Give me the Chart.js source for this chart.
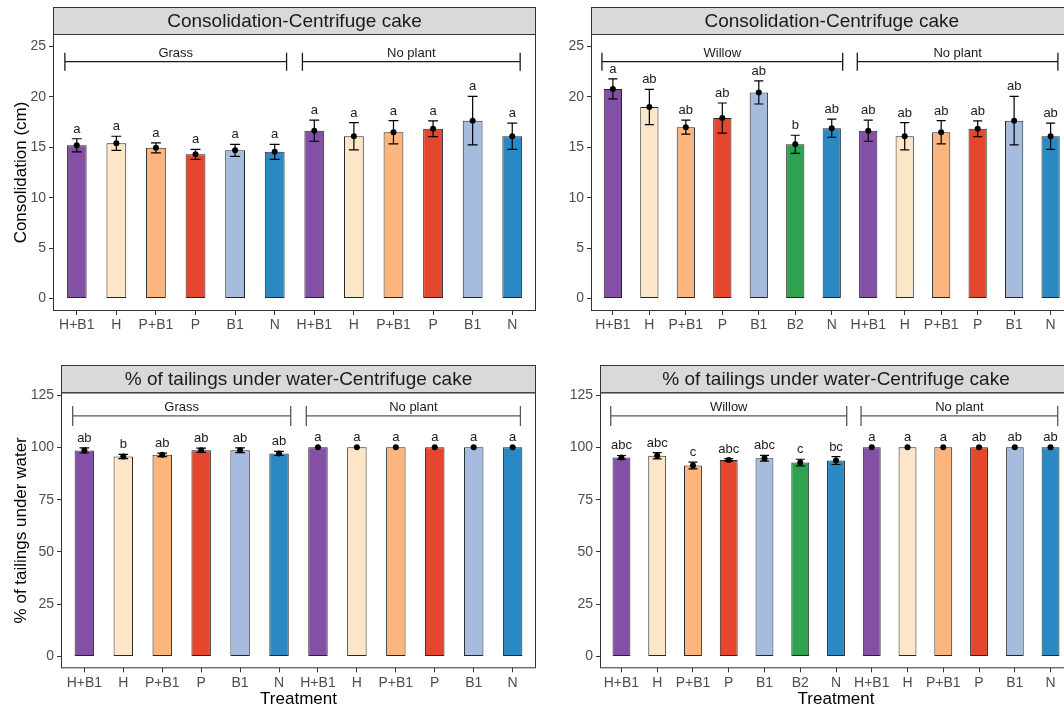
<!DOCTYPE html>
<html>
<head>
<meta charset="utf-8">
<script src="https://cdn.jsdelivr.net/npm/chart.js@4.4.1/dist/chart.umd.min.js"></script>
<style>
  html, body { margin: 0; padding: 0; background: #ffffff; overflow: hidden; width: 1064px; height: 710px; }
  .panel { position: absolute; }
  canvas { display: block; }
</style>
</head>
<body>
<div class="panel" style="left:0;top:0;"><canvas id="consolGrass" width="540" height="350"></canvas></div>
<div class="panel" style="left:540px;top:0;"><canvas id="consolWillow" width="540" height="350"></canvas></div>
<div class="panel" style="left:0;top:355px;"><canvas id="waterGrass" width="540" height="355"></canvas></div>
<div class="panel" style="left:540px;top:355px;"><canvas id="waterWillow" width="540" height="355"></canvas></div>

<script>
// ---- Treatments ----
const grassTreatments   = ['H+B1', 'H', 'P+B1', 'P', 'B1', 'N'];
const willowTreatments  = ['H+B1', 'H', 'P+B1', 'P', 'B1', 'B2', 'N'];
const noPlantTreatments = ['H+B1', 'H', 'P+B1', 'P', 'B1', 'N'];

// ---- Consolidation (cm): means, standard errors, letter groups ----
const consolGrassMean      = [15.2, 15.4, 14.95, 14.3, 14.7, 14.55];
const consolGrassSE        = [0.65, 0.7, 0.5, 0.5, 0.6, 0.75];
const consolGrassLetters   = ['a', 'a', 'a', 'a', 'a', 'a'];
const consolNoPlantMean    = [16.65, 16.1, 16.5, 16.85, 17.65, 16.1];
const consolNoPlantSE      = [1.05, 1.35, 1.15, 0.78, 2.4, 1.3];
const consolNoPlantLettersG = ['a', 'a', 'a', 'a', 'a', 'a'];
const consolWillowMean     = [20.8, 19.0, 17.0, 17.9, 20.45, 15.3, 16.9];
const consolWillowSE       = [1.0, 1.75, 0.7, 1.5, 1.15, 0.9, 0.9];
const consolWillowLetters  = ['a', 'ab', 'ab', 'ab', 'ab', 'b', 'ab'];
const consolNoPlantLettersW = ['ab', 'ab', 'ab', 'ab', 'ab', 'ab'];

// ---- % of tailings under water: means, standard errors, letter groups ----
const waterGrassMean       = [98.5, 95.6, 96.4, 98.6, 98.6, 97.1];
const waterGrassSE         = [1.2, 1.0, 0.8, 1.0, 1.1, 1.0];
const waterGrassLetters    = ['ab', 'b', 'ab', 'ab', 'ab', 'ab'];
const waterNoPlantMean     = [100, 100, 100, 100, 100, 100];
const waterNoPlantSE       = [0, 0, 0, 0, 0, 0];
const waterNoPlantLettersG = ['a', 'a', 'a', 'a', 'a', 'a'];
const waterWillowMean      = [95.2, 96.0, 91.3, 94.0, 94.8, 92.7, 93.7];
const waterWillowSE        = [0.9, 1.5, 1.6, 0.6, 1.4, 1.6, 1.9];
const waterWillowLetters   = ['abc', 'abc', 'c', 'abc', 'abc', 'c', 'bc'];
const waterNoPlantLettersW = ['a', 'a', 'a', 'ab', 'ab', 'ab'];

// ---- Axis ticks ----
const consolTicks = [0, 5, 10, 15, 20, 25];
const waterTicks  = [0, 25, 50, 75, 100, 125];

// ---- Fill colour per treatment ----
const treatmentColors = {
  'H+B1': '#8450a6',
  'H':    '#fde6c8',
  'P+B1': '#fcb57c',
  'P':    '#e4472e',
  'B1':   '#a5bcdf',
  'B2':   '#2ea24f',
  'N':    '#2a88c2'
};

const FONT = "'Liberation Sans', Arial, Helvetica, sans-serif";
Chart.defaults.font.family = FONT;

// Strip, panel frame, group brackets, error bars and letters
function makeDecor(cfg) {
  return {
    id: 'panelDecor',
    afterDatasetDraw(chart, args) {
      if (args.index !== 0) return;
      const { ctx, scales: { x, y } } = chart;
      const half = x.getPixelForValue(1.125) - x.getPixelForValue(1);
      ctx.save();
      ctx.strokeStyle = '#000';
      ctx.lineWidth = 1.2;
      cfg.means.forEach((m, i) => {
        const se = cfg.errors[i];
        if (!se) return;
        const px = x.getPixelForValue(i + 1);
        const yt = y.getPixelForValue(m + se);
        const yb = y.getPixelForValue(m - se);
        ctx.beginPath();
        ctx.moveTo(px, yt); ctx.lineTo(px, yb);
        ctx.moveTo(px - half, yt); ctx.lineTo(px + half, yt);
        ctx.moveTo(px - half, yb); ctx.lineTo(px + half, yb);
        ctx.stroke();
      });
      ctx.restore();
    },
    afterDraw(chart) {
      const { ctx, chartArea: a, scales: { x, y } } = chart;
      ctx.save();

      // strip
      ctx.fillStyle = '#d9d9d9';
      ctx.fillRect(a.left, cfg.stripTop, a.right - a.left, a.top - cfg.stripTop);
      ctx.strokeStyle = '#333333';
      ctx.lineWidth = 1;
      ctx.strokeRect(a.left + 0.5, cfg.stripTop + 0.5, a.right - a.left - 1, a.top - cfg.stripTop);
      ctx.fillStyle = '#1a1a1a';
      ctx.font = '19px ' + FONT;
      ctx.textAlign = 'center';
      ctx.textBaseline = 'middle';
      ctx.fillText(cfg.title, (a.left + a.right) / 2, (cfg.stripTop + a.top) / 2 + 1);

      // panel frame
      ctx.strokeRect(a.left + 0.5, a.top + 0.5, a.right - a.left - 1, a.bottom - a.top - 1);

      // group brackets
      ctx.strokeStyle = cfg.bracketColor;
      ctx.lineWidth = 1.3;
      const yl = y.getPixelForValue(cfg.bracketY);
      const yTop = y.getPixelForValue(cfg.bracketY + cfg.bracketTick);
      const yBot = y.getPixelForValue(cfg.bracketY - cfg.bracketTick);
      ctx.font = '13px ' + FONT;
      ctx.textBaseline = 'alphabetic';
      cfg.groups.forEach(g => {
        const x0 = x.getPixelForValue(g.from);
        const x1 = x.getPixelForValue(g.to);
        ctx.beginPath();
        ctx.moveTo(x0, yl); ctx.lineTo(x1, yl);
        ctx.moveTo(x0, yTop); ctx.lineTo(x0, yBot);
        ctx.moveTo(x1, yTop); ctx.lineTo(x1, yBot);
        ctx.stroke();
        ctx.fillStyle = '#1a1a1a';
        ctx.fillText(g.label, (x0 + x1) / 2, yl - 4.5);
      });

      // letter groups
      ctx.fillStyle = '#1a1a1a';
      ctx.font = '13px ' + FONT;
      cfg.letters.forEach((t, i) => {
        const px = x.getPixelForValue(i + 1);
        const py = y.getPixelForValue(cfg.means[i] + cfg.errors[i]) - 6;
        ctx.fillText(t, px, py);
      });
      ctx.restore();
    }
  };
}

function buildPanel(id, cfg) {
  const cats = cfg.categories;
  const n = cats.length;
  const pts = cfg.means.map((v, i) => ({ x: i + 1, y: v }));
  const tickFont = { size: 14, family: FONT };
  return new Chart(document.getElementById(id), {
    type: 'bar',
    data: {
      datasets: [
        {
          type: 'bar', data: pts,
          backgroundColor: cats.map(c => treatmentColors[c]),
          borderColor: '#262626', borderWidth: 1, borderSkipped: false,
          barPercentage: 0.5, categoryPercentage: 1, order: 1
        },
        {
          type: 'line', data: pts, showLine: false,
          pointRadius: 3, pointBackgroundColor: '#000', pointBorderWidth: 0, order: 0
        }
      ]
    },
    options: {
      responsive: false,
      animation: false,
      events: [],
      layout: { padding: { top: cfg.area.top, right: cfg.area.right, left: 0, bottom: 0 } },
      plugins: { legend: { display: false }, tooltip: { enabled: false } },
      scales: {
        x: {
          type: 'linear', min: 0.4, max: n + 0.6, offset: false,
          afterBuildTicks: s => { s.ticks = cats.map((c, i) => ({ value: i + 1 })); },
          afterFit: s => { s.height = cfg.area.xh; },
          ticks: {
            callback: v => cats[Math.round(v) - 1] || '',
            autoSkip: false, maxRotation: 0, minRotation: 0,
            font: tickFont, color: '#4d4d4d', padding: 2
          },
          grid: { display: true, offset: false, drawOnChartArea: false, drawTicks: true, tickLength: 4, tickColor: '#333333' },
          border: { display: false },
          title: {
            display: !!cfg.xTitle, text: cfg.xTitle || '',
            font: { size: 17, family: FONT }, color: '#000', padding: { top: 0, bottom: 0 }
          }
        },
        y: {
          min: cfg.yMin, max: cfg.yMax,
          afterBuildTicks: s => { s.ticks = cfg.yTicks.map(v => ({ value: v })); },
          afterFit: s => { s.width = cfg.area.left; },
          ticks: { font: tickFont, color: '#4d4d4d', padding: 3 },
          grid: { display: true, drawOnChartArea: false, drawTicks: true, tickLength: 4, tickColor: '#333333' },
          border: { display: false },
          title: {
            display: !!cfg.yTitle, text: cfg.yTitle || '',
            font: { size: 17, family: FONT }, color: '#000', padding: { top: 11, bottom: 0 }
          }
        }
      }
    },
    plugins: [makeDecor(cfg)]
  });
}

// Consolidation, grass + no plant
buildPanel('consolGrass', {
  title: 'Consolidation-Centrifuge cake',
  categories: grassTreatments.concat(noPlantTreatments),
  means: consolGrassMean.concat(consolNoPlantMean),
  errors: consolGrassSE.concat(consolNoPlantSE),
  letters: consolGrassLetters.concat(consolNoPlantLettersG),
  yMin: -1.25, yMax: 26.25, yTicks: consolTicks,
  yTitle: 'Consolidation (cm)',
  area: { left: 53, top: 34, right: 3, xh: 39 },
  stripTop: 7,
  bracketY: 23.5, bracketTick: 0.9, bracketColor: '#1a1a1a',
  groups: [{ label: 'Grass', from: 0.7, to: 6.3 }, { label: 'No plant', from: 6.7, to: 12.2 }]
});

// Consolidation, willow + no plant
buildPanel('consolWillow', {
  title: 'Consolidation-Centrifuge cake',
  categories: willowTreatments.concat(noPlantTreatments),
  means: consolWillowMean.concat(consolNoPlantMean),
  errors: consolWillowSE.concat(consolNoPlantSE),
  letters: consolWillowLetters.concat(consolNoPlantLettersW),
  yMin: -1.25, yMax: 26.25, yTicks: consolTicks,
  area: { left: 51, top: 34, right: 7.5, xh: 39 },
  stripTop: 7,
  bracketY: 23.5, bracketTick: 0.9, bracketColor: '#1a1a1a',
  groups: [{ label: 'Willow', from: 0.7, to: 7.3 }, { label: 'No plant', from: 7.7, to: 13.2 }]
});

// % of tailings under water, grass + no plant
buildPanel('waterGrass', {
  title: '% of tailings under water-Centrifuge cake',
  categories: grassTreatments.concat(noPlantTreatments),
  means: waterGrassMean.concat(waterNoPlantMean),
  errors: waterGrassSE.concat(waterNoPlantSE),
  letters: waterGrassLetters.concat(waterNoPlantLettersG),
  yMin: -5.6, yMax: 126.3, yTicks: waterTicks,
  yTitle: '% of tailings under water',
  xTitle: 'Treatment',
  area: { left: 61, top: 37.3, right: 3, xh: 41.7 },
  stripTop: 10,
  bracketY: 115, bracketTick: 4.8, bracketColor: '#595959',
  groups: [{ label: 'Grass', from: 0.7, to: 6.3 }, { label: 'No plant', from: 6.7, to: 12.2 }]
});

// % of tailings under water, willow + no plant
buildPanel('waterWillow', {
  title: '% of tailings under water-Centrifuge cake',
  categories: willowTreatments.concat(noPlantTreatments),
  means: waterWillowMean.concat(waterNoPlantMean),
  errors: waterWillowSE.concat(waterNoPlantSE),
  letters: waterWillowLetters.concat(waterNoPlantLettersW),
  yMin: -5.6, yMax: 126.3, yTicks: waterTicks,
  xTitle: 'Treatment',
  area: { left: 60, top: 37.3, right: 8, xh: 41.7 },
  stripTop: 10,
  bracketY: 115, bracketTick: 4.8, bracketColor: '#595959',
  groups: [{ label: 'Willow', from: 0.7, to: 7.3 }, { label: 'No plant', from: 7.7, to: 13.2 }]
});
</script>
</body>
</html>
